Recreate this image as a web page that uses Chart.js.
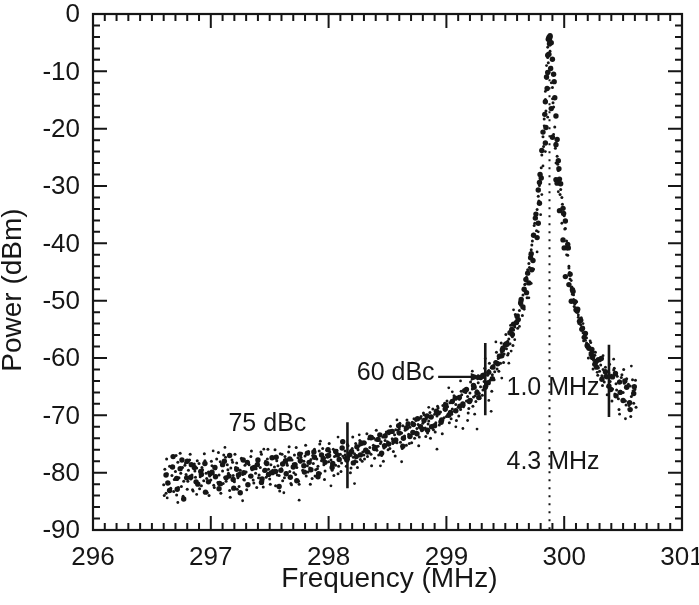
<!DOCTYPE html>
<html>
<head>
<meta charset="utf-8">
<script src="https://cdn.jsdelivr.net/npm/chart.js@4.4.1/dist/chart.umd.min.js"></script>
<style>
  html, body { margin: 0; padding: 0; background: #fff; }
  #wrap { width: 699px; height: 605px; }
</style>
</head>
<body>
<div id="wrap"><canvas id="spec" width="699" height="605"></canvas></div>
<script>
// ---- datos ----
const xTicks = [296, 297, 298, 299, 300, 301];
const yTicks = [-90, -80, -70, -60, -50, -40, -30, -20, -10, 0];

// barrido principal (puntos chicos)
const smallFreq = [
296.60,296.61,296.62,296.63,296.64,296.65,296.66,296.67,296.68,296.69,
296.70,296.71,296.72,296.73,296.74,296.75,296.76,296.77,296.78,296.79,
296.80,296.81,296.82,296.83,296.84,296.85,296.86,296.87,296.88,296.89,
296.90,296.91,296.92,296.93,296.94,296.95,296.96,296.97,296.98,296.99,
297.00,297.01,297.02,297.03,297.04,297.05,297.06,297.07,297.08,297.09,
297.10,297.11,297.12,297.13,297.14,297.15,297.16,297.17,297.18,297.19,
297.20,297.21,297.22,297.23,297.24,297.25,297.26,297.27,297.28,297.29,
297.30,297.31,297.32,297.33,297.34,297.35,297.36,297.37,297.38,297.39,
297.40,297.41,297.42,297.43,297.44,297.45,297.46,297.47,297.48,297.49,
297.50,297.51,297.52,297.53,297.54,297.55,297.56,297.57,297.58,297.59,
297.60,297.61,297.62,297.63,297.64,297.65,297.66,297.67,297.68,297.69,
297.70,297.71,297.72,297.73,297.74,297.75,297.76,297.77,297.78,297.79,
297.80,297.81,297.82,297.83,297.84,297.85,297.86,297.87,297.88,297.89,
297.90,297.91,297.92,297.93,297.94,297.95,297.96,297.97,297.98,297.99,
298.00,298.01,298.02,298.03,298.04,298.05,298.06,298.07,298.08,298.09,
298.10,298.11,298.12,298.13,298.14,298.15,298.16,298.17,298.18,298.19,
298.20,298.21,298.22,298.23,298.24,298.25,298.26,298.27,298.28,298.29,
298.30,298.31,298.32,298.33,298.34,298.35,298.36,298.37,298.38,298.39,
298.40,298.41,298.42,298.43,298.44,298.45,298.46,298.47,298.48,298.49,
298.50,298.51,298.52,298.53,298.54,298.55,298.56,298.57,298.58,298.59,
298.60,298.61,298.62,298.63,298.64,298.65,298.66,298.67,298.68,298.69,
298.70,298.71,298.72,298.73,298.74,298.75,298.76,298.77,298.78,298.79,
298.80,298.81,298.82,298.83,298.84,298.85,298.86,298.87,298.88,298.89,
298.90,298.91,298.92,298.93,298.94,298.95,298.96,298.97,298.98,298.99,
299.00,299.01,299.02,299.03,299.04,299.05,299.06,299.07,299.08,299.09,
299.10,299.11,299.12,299.13,299.14,299.15,299.16,299.17,299.18,299.19,
299.20,299.21,299.22,299.23,299.24,299.25,299.26,299.27,299.28,299.29,
299.30,299.31,299.32,299.33,299.34,299.35,299.36,299.37,299.38,299.39,
299.40,299.41,299.42,299.43,299.44,299.45,299.46,299.47,299.48,299.49,
299.50,299.51,299.52,299.53,299.54,299.55,299.56,299.57,299.58,299.59,
299.60,299.61,299.62,299.63,299.64,299.65,299.66,299.67,299.68,299.69,
299.70,299.71,299.72,299.73,299.74,299.75,299.76,299.77,299.78,299.79,
299.80,299.81,299.82,299.83,299.84,299.85,299.86,299.87,299.88,299.89,
299.90,299.91,299.92,299.93,299.94,299.95,299.96,299.97,299.98,299.99,
300.00,300.01,300.02,300.03,300.04,300.05,300.06,300.07,300.08,300.09,
300.10,300.11,300.12,300.13,300.14,300.15,300.16,300.17,300.18,300.19,
300.20,300.21,300.22,300.23,300.24,300.25,300.26,300.27,300.28,300.29,
300.30,300.31,300.32,300.33,300.34,300.35,300.36,300.37,300.38,300.39,
300.40,300.41,300.42,300.43,300.44,300.45,300.46,300.47,300.48,300.49,
300.50,300.51,300.52,300.53,300.54,300.55,300.56,300.57,300.58,300.59,
300.60,300.61
];
const smallPower = [
-82.1,-79.4,-83.6,-80.2,-81.8,-78.9,-82.7,-80.5,-77.3,-81.2,
-79.8,-83.9,-78.2,-80.9,-76.6,-82.4,-79.1,-81.5,-78.7,-80.3,
-82.9,-79.6,-77.8,-81.1,-80.4,-83.2,-78.5,-80.8,-79.2,-81.9,
-78.4,-80.7,-82.3,-79.5,-81.4,-77.9,-80.1,-83.5,-79.9,-80.6,
-81.3,-78.8,-80.2,-82.6,-79.3,-77.6,-81.7,-80.4,-78.1,-82.1,
-79.7,-76.9,-80.8,-81.5,-78.6,-80.1,-83.1,-79.2,-77.8,-80.5,
-81.6,-79.1,-78.3,-80.9,-82.4,-79.6,-77.5,-80.3,-81.2,-78.7,
-79.9,-82.0,-78.4,-80.6,-77.2,-79.5,-81.3,-78.9,-80.1,-82.6,
-78.2,-80.4,-79.1,-76.8,-81.5,-79.7,-78.3,-80.8,-77.6,-79.4,
-81.1,-78.6,-77.4,-80.2,-79.0,-82.3,-77.9,-78.8,-80.5,-76.7,
-79.3,-81.4,-78.1,-77.2,-80.0,-78.7,-76.4,-79.8,-81.9,-77.8,
-78.5,-76.9,-80.3,-79.1,-77.4,-82.0,-78.2,-76.6,-79.6,-78.0,
-77.1,-80.6,-78.8,-76.3,-79.2,-77.7,-81.0,-78.4,-75.9,-79.5,
-77.6,-78.9,-76.2,-80.1,-77.9,-75.8,-78.6,-79.7,-76.9,-77.3,
-78.1,-76.4,-77.8,-79.6,-75.9,-77.2,-78.7,-76.1,-80.2,-77.5,
-76.8,-78.3,-75.6,-77.4,-76.2,-78.9,-75.1,-77.6,-76.5,-79.2,
-75.8,-77.3,-76.7,-74.9,-78.1,-76.0,-75.3,-77.7,-74.6,-76.4,
-76.9,-74.8,-75.9,-77.2,-74.1,-75.6,-76.8,-73.7,-75.2,-77.5,
-74.3,-76.1,-75.4,-73.5,-74.9,-77.0,-73.8,-75.7,-74.4,-72.9,
-74.6,-73.2,-75.8,-72.7,-74.1,-76.3,-73.4,-72.5,-74.8,-73.0,
-72.4,-74.7,-73.1,-71.8,-73.9,-72.6,-75.2,-71.5,-73.3,-72.1,
-73.6,-71.2,-72.8,-74.0,-70.9,-72.3,-71.6,-73.8,-70.5,-72.7,
-71.4,-69.9,-72.2,-70.6,-73.1,-71.0,-69.5,-71.9,-70.2,-72.5,
-69.8,-71.3,-70.1,-68.7,-71.7,-69.4,-70.8,-68.3,-70.4,-69.1,
-70.2,-68.5,-69.7,-67.8,-70.6,-68.9,-67.4,-69.3,-68.1,-66.9,
-68.6,-67.2,-69.0,-66.4,-67.9,-68.3,-65.8,-67.5,-66.7,-68.8,
-66.1,-67.3,-65.4,-66.8,-64.9,-67.6,-65.7,-64.3,-66.2,-65.0,
-63.4,-65.6,-64.1,-62.8,-64.7,-63.0,-62.2,-63.9,-61.7,-62.9,
-61.3,-62.4,-60.7,-61.9,-60.1,-59.6,-60.9,-59.0,-58.6,-59.3,
-57.9,-58.4,-57.1,-56.7,-57.5,-55.8,-56.3,-55.1,-54.6,-53.9,
-53.2,-52.5,-51.7,-50.8,-50.1,-49.0,-48.2,-47.1,-45.9,-44.6,
-43.5,-42.0,-41.1,-39.6,-38.4,-36.5,-35.0,-34.1,-31.8,-29.9,
-28.2,-24.6,-21.4,-18.3,-14.9,-11.2,-7.6,-4.6,-5.4,-9.3,
-12.8,-16.2,-19.7,-22.5,-24.8,-27.3,-29.1,-30.6,-32.0,-33.8,
-35.2,-37.4,-39.6,-42.1,-44.3,-46.2,-47.7,-48.9,-49.8,-50.6,
-51.3,-52.0,-52.9,-53.5,-54.2,-55.0,-55.6,-56.1,-56.9,-57.4,
-57.8,-58.3,-59.1,-58.7,-59.8,-60.4,-59.5,-61.0,-60.6,-61.7,
-62.3,-61.2,-63.1,-62.0,-64.2,-61.6,-63.5,-65.0,-62.6,-64.1,
-63.0,-65.4,-62.1,-66.3,-64.5,-63.2,-67.1,-64.0,-65.8,-62.9,
-66.0,-64.4,-67.5,-63.6,-65.2,-68.3,-64.9,-66.7,-63.8,-67.9,
-65.5,-68.6
];

// tercer barrido (puntos chicos, mas disperso)
const smallFreq2 = [
296.605,296.625,296.645,296.665,296.685, 296.705,296.725,296.745,296.765,296.785,
296.805,296.825,296.845,296.865,296.885, 296.905,296.925,296.945,296.965,296.985,
297.005,297.025,297.045,297.065,297.085, 297.105,297.125,297.145,297.165,297.185,
297.205,297.225,297.245,297.265,297.285, 297.305,297.325,297.345,297.365,297.385,
297.405,297.425,297.445,297.465,297.485, 297.505,297.525,297.545,297.565,297.585,
297.605,297.625,297.645,297.665,297.685, 297.705,297.725,297.745,297.765,297.785,
297.805,297.825,297.845,297.865,297.885, 297.905,297.925,297.945,297.965,297.985,
298.005,298.025,298.045,298.065,298.085, 298.105,298.125,298.145,298.165,298.185,
298.205,298.225,298.245,298.265,298.285, 298.305,298.325,298.345,298.365,298.385,
298.405,298.425,298.445,298.465,298.485, 298.505,298.525,298.545,298.565,298.585,
298.605,298.625,298.645,298.665,298.685, 298.705,298.725,298.745,298.765,298.785,
298.805,298.825,298.845,298.865,298.885, 298.905,298.925,298.945,298.965,298.985,
299.005,299.025,299.045,299.065,299.085, 299.105,299.125,299.145,299.165,299.185,
299.205,299.225,299.245,299.265,299.285, 299.305,299.325,299.345,299.365,299.385,
299.405,299.425,299.445,299.465,299.485, 299.505,299.525,299.545,299.565,299.585,
299.605,299.625,299.645,299.665,299.685, 299.705,299.725,299.745,299.765,299.785,
299.805,299.825,299.845,299.865,299.885, 299.905,299.925,299.945,299.965,299.985,
300.005,300.025,300.045,300.065,300.085, 300.105,300.125,300.145,300.165,300.185,
300.205,300.225,300.245,300.265,300.285, 300.305,300.325,300.345,300.365,300.385,
300.405,300.425,300.445,300.465,300.485, 300.505,300.525,300.545,300.565,300.585,
300.605
];
const smallPower2 = [
-84.0,-77.6,-81.9,-79.0,-83.3, -77.0,-82.6,-80.1,-84.1,-78.3,
-81.5,-76.8,-83.0,-79.7,-77.9, -82.8,-79.1,-76.7,-81.0,-84.0,
-78.0,-82.2,-80.6,-76.5,-83.6, -81.9,-77.3,-79.5,-84.3,-78.2,
-76.8,-82.9,-80.0,-77.7,-81.3, -83.0,-78.6,-76.2,-81.8,-79.3,
-80.9,-76.4,-82.5,-78.0,-75.9, -82.0,-79.6,-76.0,-80.4,-83.2,
-76.8,-80.9,-78.4,-75.5,-82.1, -80.0,-75.6,-81.5,-77.3,-79.8,
-75.2,-79.9,-82.0,-77.0,-80.6, -79.3,-75.0,-77.8,-81.2,-76.1,
-74.9,-78.7,-80.5,-76.6,-78.9, -79.8,-74.5,-77.5,-75.3,-80.0,
-73.8,-77.9,-79.1,-74.4,-78.0, -77.6,-73.2,-76.5,-78.8,-74.0,
-72.6,-76.9,-74.6,-78.0,-73.3, -76.0,-71.9,-74.9,-77.1,-72.6,
-71.4,-75.8,-73.6,-70.8,-74.9, -74.8,-70.6,-72.9,-75.3,-70.2,
-69.6,-73.7,-71.5,-74.0,-68.9, -72.9,-68.4,-71.0,-73.2,-67.9,
-67.5,-71.3,-69.8,-66.6,-70.9, -70.1,-65.8,-68.5,-66.0,-69.6,
-64.2,-68.4,-66.6,-63.6,-67.0, -66.5,-61.8,-64.9,-60.9,-65.8,
-63.8,-59.0,-62.3,-57.4,-60.8, -55.9,-59.2,-54.3,-57.8,-52.4,
-54.8,-50.0,-52.6,-47.2,-49.5, -44.2,-40.3,-36.9,-37.8,-32.6,
-26.8,-23.1,-16.9,-8.5,-4.9, -15.5,-23.4,-26.2,-31.5,-33.2,
-37.5,-41.0,-45.1,-47.6,-51.0, -50.2,-54.0,-53.0,-57.0,-55.9,
-60.0,-57.3,-61.9,-59.0,-63.0, -60.5,-64.8,-62.5,-66.4,-61.1,
-67.5,-61.8,-65.6,-69.0,-63.4, -62.0,-68.2,-64.6,-70.2,-65.7,
-63.9
];

// segundo barrido (puntos grandes)
const bigFreq = [
296.62,296.65,296.68,296.71,296.74,296.77,296.80,296.83,296.86,296.89,
296.92,296.95,296.98,297.01,297.04,297.07,297.10,297.13,297.16,297.19,
297.22,297.25,297.28,297.31,297.34,297.37,297.40,297.43,297.46,297.49,
297.52,297.55,297.58,297.61,297.64,297.67,297.70,297.73,297.76,297.79,
297.82,297.85,297.88,297.91,297.94,297.97,298.00,298.03,298.06,298.09,
298.12,298.15,298.18,298.21,298.24,298.27,298.30,298.33,298.36,298.39,
298.42,298.45,298.48,298.51,298.54,298.57,298.60,298.63,298.66,298.69,
298.72,298.75,298.78,298.81,298.84,298.87,298.90,298.93,298.96,298.99,
299.02,299.05,299.08,299.11,299.14,299.17,299.20,299.23,299.26,299.29,
299.31,299.33,299.36,299.39,299.42,299.45,299.48,299.51,299.54,299.57,
299.60,299.63,299.66,299.69,299.72,299.74,299.76,299.78,299.79,299.81,
299.82,299.84,299.85,299.86,299.87,299.88,299.89,299.90,299.91,299.92,
299.93,299.94,299.95,299.96,299.97,299.99,300.01,300.03,300.05,300.07,
300.09,300.11,300.13,300.15,300.17,300.20,300.23,300.26,300.29,300.32,
300.35,300.38,300.41,300.44,300.47,300.50,300.53,300.56,300.59
];
const bigPower = [
-80.4,-83.1,-77.2,-81.0,-79.3,-84.6,-78.0,-80.8,-79.1,-82.0,
-80.3,-78.4,-81.6,-79.9,-80.7,-82.8,-78.6,-80.9,-77.0,-81.2,
-79.4,-83.5,-80.0,-78.2,-80.6,-79.1,-77.8,-81.7,-79.6,-80.3,
-77.4,-79.8,-82.4,-78.5,-80.2,-77.6,-79.0,-81.4,-77.9,-78.8,
-76.6,-79.5,-77.3,-80.7,-76.9,-78.2,-77.0,-79.1,-76.3,-77.7,
-74.6,-77.5,-76.8,-78.3,-75.5,-76.9,-74.8,-76.4,-73.9,-75.8,
-74.2,-76.6,-73.6,-75.0,-72.8,-74.3,-73.1,-75.4,-72.2,-73.7,
-71.6,-73.2,-72.0,-70.9,-72.6,-70.3,-71.8,-69.6,-70.8,-68.9,
-70.0,-67.6,-69.2,-66.9,-68.0,-65.5,-67.4,-64.8,-66.0,-63.4,
-63.2,-65.1,-62.5,-63.6,-60.8,-59.7,-58.3,-57.5,-55.6,-54.1,
-52.7,-50.4,-48.0,-45.2,-41.8,-38.6,-34.9,-30.7,-29.4,-23.8,
-20.6,-15.3,-11.0,-7.2,-4.1,-3.8,-5.0,-7.9,-10.5,-14.6,
-17.8,-21.9,-25.6,-28.8,-29.6,-33.9,-36.1,-40.2,-45.4,-48.1,
-50.2,-51.8,-53.6,-55.0,-56.4,-58.0,-59.4,-61.1,-60.3,-63.7,
-62.4,-64.9,-63.3,-66.6,-64.2,-67.4,-65.1,-69.0,-66.2
];

// cuarto barrido (puntos grandes)
const bigFreq2 = [
296.635,296.675,296.715,296.755,296.795, 296.835,296.875,296.915,296.955,296.995,
297.035,297.075,297.115,297.155,297.195, 297.235,297.275,297.315,297.355,297.395,
297.435,297.475,297.515,297.555,297.595, 297.635,297.675,297.715,297.755,297.795,
297.835,297.875,297.915,297.955,297.995, 298.035,298.075,298.115,298.155,298.195,
298.235,298.275,298.315,298.355,298.395, 298.435,298.475,298.515,298.555,298.595,
298.635,298.675,298.715,298.755,298.795, 298.835,298.875,298.915,298.955,298.995,
299.035,299.075,299.115,299.155,299.195, 299.235,299.275,299.315,299.355,299.395,
299.435,299.475,299.515,299.555,299.595, 299.635,299.675,299.715,299.755,299.795,
299.835,299.875,299.915,299.955,299.995, 300.035,300.075,300.115,300.155,300.195,
300.235,300.275,300.315,300.355,300.395, 300.435,300.475,300.515,300.555,300.595
];
const bigPower2 = [
-81.8,-79.0,-82.9,-77.8,-80.9, -78.6,-81.6,-79.8,-83.4,-80.2,
-79.1,-81.9,-78.0,-80.6,-82.7, -80.4,-77.8,-82.1,-79.2,-78.6,
-81.1,-78.4,-80.0,-77.3,-79.6, -77.9,-80.8,-78.6,-76.8,-79.9,
-78.2,-76.4,-80.2,-77.5,-76.0, -78.4,-76.9,-75.7,-77.8,-76.3,
-77.2,-74.9,-76.1,-73.8,-75.6, -73.4,-75.3,-72.9,-74.5,-71.8,
-74.0,-71.5,-73.0,-70.6,-72.4, -70.1,-72.0,-69.3,-71.2,-68.2,
-69.5,-67.0,-68.4,-65.7,-67.6, -65.1,-66.9,-63.0,-64.3,-61.6,
-61.0,-58.6,-57.6,-55.0,-53.8, -49.8,-46.3,-42.5,-35.6,-28.0,
-17.5,-4.5,-11.8,-27.0,-34.8, -40.8,-48.4,-51.5,-54.8,-57.8,
-58.5,-61.6,-60.1,-63.2,-65.5, -62.7,-66.0,-64.0,-67.8,-65.0
];

// columna del pico (puntos grandes)
const peakFreq = [
299.865,299.875,299.880,299.870,299.860,299.885,299.855,299.890,299.845,299.900,
299.840,299.930,299.805,299.930,299.940,299.790,299.960,299.780,299.990,299.770,
300.000,299.735,299.725,300.010,299.700,300.040,299.680,300.060,299.650,300.100,
300.140,299.610,300.180,299.560,300.210,299.500,300.240,299.470,300.270
];
const peakPower = [
-4.4,-5.2,-4.0,-7.0,-10.2,-9.5,-13.0,-16.5,-19.8,-21.5,
-22.5,-22.8,-28.6,-28.9,-29.5,-33.0,-34.3,-36.5,-39.4,-39.0,
-40.8,-43.0,-44.6,-45.8,-46.9,-47.2,-48.6,-50.1,-51.1,-51.6,
-53.4,-53.3,-55.7,-55.9,-58.3,-57.7,-59.9,-59.6,-60.6
];

// puntos sueltos (columna del pico y dispersos)
const extraFreq = [
299.86,299.88,299.85,299.89,299.84,299.90,299.86,299.83,299.91,299.84,
299.82,299.93,299.81,299.95,299.80,299.98,299.78,300.02,299.77,300.04,
299.74,300.06,299.72,300.08,299.70,300.12,299.66,300.16,299.62,300.19,
299.58,300.22,299.55,300.25,299.52,300.28,
296.63,296.72,296.88,297.02,297.12,297.27,297.45,297.62,297.75,297.93,
298.02,298.08,298.22,298.26,298.44,298.58,298.62,298.85,298.92,299.05,
299.14,299.22,299.26,299.27,299.29,299.30,299.33,299.38,300.33,300.42,
300.47,300.52,300.57,300.55,298.12,298.14,298.17,298.19,
299.02,299.08,299.12,299.18,299.24,299.36,299.42,299.47,299.53,299.57
];
const extraPower = [
-5.8,-6.5,-9.0,-12.0,-13.5,-14.8,-18.0,-19.5,-21.0,-24.0,
-26.5,-26.0,-31.5,-31.0,-35.0,-36.5,-38.0,-42.0,-41.5,-44.0,
-44.5,-46.5,-47.0,-49.0,-49.5,-52.5,-51.5,-54.0,-54.5,-56.5,
-56.8,-57.0,-58.8,-59.0,-59.5,-62.5,
-84.4,-85.2,-83.8,-76.2,-75.6,-84.9,-75.9,-83.5,-84.8,-74.5,
-82.3,-73.8,-81.9,-73.4,-78.8,-70.8,-78.1,-68.6,-75.9,-65.9,
-72.3,-62.3,-72.4,-63.1,-63.5,-62.9,-60.1,-69.3,-59.6,-60.2,
-69.8,-70.6,-61.4,-68.9,-77.1,-76.9,-77.3,-77.0,
-65.2,-72.0,-64.0,-70.9,-69.8,-67.4,-57.2,-63.5,-60.9,-51.6
];

// marcas verticales: [frecuencia, potencia arriba, potencia abajo]
const markerLines = [
    [298.16, -71.2, -82.7],
    [299.33, -57.4, -70.0],
    [300.38, -57.7, -70.3]
];
const centerFreq = 299.87;   // linea punteada
const arrowSpan = [298.93, 299.30, -63.3];
const labels = [
    { text: '60 dBc',  x: 298.90, y: -62.6, align: 'right' },
    { text: '75 dBc',  x: 297.15, y: -71.6, align: 'left' },
    { text: '1.0 MHz', x: 299.51, y: -65.3, align: 'left' },
    { text: '4.3 MHz', x: 299.51, y: -78.2, align: 'left' }
];

const FONT = '"Liberation Sans", Arial, Helvetica, sans-serif';
const INK = '#161616';

function pares(fs, ps) {
    return fs.map((f, i) => ({ x: f, y: ps[i] }));
}

function serie(fs, ps, r) {
    return {
        data: pares(fs, ps),
        backgroundColor: INK, borderColor: INK,
        pointRadius: r, borderWidth: 0
    };
}

// marco, ticks hacia adentro, rotulos y anotaciones
const adornos = {
    id: 'adornos',
    beforeDatasetsDraw(chart) {
        const { ctx, scales: { x, y } } = chart;
        ctx.save();
        ctx.strokeStyle = INK;
        ctx.lineWidth = 2;
        ctx.setLineDash([2, 6]);
        const px = Math.round(x.getPixelForValue(centerFreq)) + 0.5;
        ctx.beginPath();
        ctx.moveTo(px, y.getPixelForValue(-10));
        ctx.lineTo(px, y.getPixelForValue(-90));
        ctx.stroke();
        ctx.restore();
    },
    afterDatasetsDraw(chart) {
        const { ctx, chartArea: a, scales: { x, y } } = chart;
        ctx.save();
        ctx.strokeStyle = INK;
        ctx.fillStyle = INK;

        // marco
        ctx.lineWidth = 2.2;
        ctx.strokeRect(a.left, a.top, a.right - a.left, a.bottom - a.top);

        // ticks eje x (cada 0.1)
        ctx.lineWidth = 2;
        ctx.beginPath();
        for (let i = 0; i <= 50; i++) {
            const px = x.getPixelForValue(296 + i / 10);
            const len = i % 10 === 0 ? 14 : 7;
            ctx.moveTo(px, a.bottom); ctx.lineTo(px, a.bottom - len);
            ctx.moveTo(px, a.top); ctx.lineTo(px, a.top + len);
        }
        // ticks eje y (cada 2)
        for (let v = -90; v <= 0; v += 2) {
            const py = y.getPixelForValue(v);
            const len = v % 10 === 0 ? 14 : 7;
            ctx.moveTo(a.left, py); ctx.lineTo(a.left + len, py);
            ctx.moveTo(a.right, py); ctx.lineTo(a.right - len, py);
        }
        ctx.stroke();

        // rotulos de los ejes
        ctx.font = '26px ' + FONT;
        ctx.textBaseline = 'middle';
        ctx.textAlign = 'center';
        xTicks.forEach(v => ctx.fillText(String(v), x.getPixelForValue(v), a.bottom + 28));
        ctx.textAlign = 'right';
        yTicks.forEach(v => ctx.fillText(String(v), a.left - 13, y.getPixelForValue(v) + 1));

        ctx.font = '28px ' + FONT;
        ctx.textAlign = 'center';
        ctx.fillText('Frequency (MHz)', (a.left + a.right) / 2 + 2, 579);
        ctx.save();
        ctx.translate(13, 290);
        ctx.rotate(-Math.PI / 2);
        ctx.fillText('Power (dBm)', 0, 0);
        ctx.restore();

        // lineas de marca
        ctx.lineWidth = 2.6;
        ctx.beginPath();
        markerLines.forEach(([f, top, bot]) => {
            const px = x.getPixelForValue(f);
            ctx.moveTo(px, y.getPixelForValue(top));
            ctx.lineTo(px, y.getPixelForValue(bot));
        });
        ctx.stroke();

        // flecha 60 dBc
        const ax0 = x.getPixelForValue(arrowSpan[0]);
        const ax1 = x.getPixelForValue(arrowSpan[1]);
        const ay = y.getPixelForValue(arrowSpan[2]);
        ctx.lineWidth = 2.2;
        ctx.beginPath();
        ctx.moveTo(ax0, ay); ctx.lineTo(ax1 - 8, ay);
        ctx.stroke();
        ctx.beginPath();
        ctx.moveTo(ax1, ay);
        ctx.lineTo(ax1 - 11, ay - 4);
        ctx.lineTo(ax1 - 11, ay + 4);
        ctx.closePath();
        ctx.fill();

        // textos
        ctx.font = '25px ' + FONT;
        ctx.textBaseline = 'middle';
        labels.forEach(l => {
            ctx.textAlign = l.align;
            ctx.fillText(l.text, x.getPixelForValue(l.x), y.getPixelForValue(l.y));
        });
        ctx.restore();
    }
};

new Chart(document.getElementById('spec'), {
    type: 'scatter',
    data: {
        datasets: [
            serie(smallFreq, smallPower, 1.5),
            serie(smallFreq2, smallPower2, 1.5),
            serie(extraFreq, extraPower, 1.4),
            serie(bigFreq, bigPower, 2.7),
            serie(bigFreq2, bigPower2, 2.7),
            serie(peakFreq, peakPower, 2.7)
        ]
    },
    options: {
        responsive: false,
        animation: false,
        layout: { padding: { top: 14, right: 17, left: 0, bottom: 0 } },
        plugins: { legend: { display: false }, tooltip: { enabled: false } },
        scales: {
            x: {
                type: 'linear',
                min: 296, max: 301,
                afterFit: s => { s.height = 75; },
                grid: { display: false, drawTicks: false },
                border: { display: false },
                ticks: { display: false }
            },
            y: {
                type: 'linear',
                min: -90, max: 0,
                afterFit: s => { s.width = 93; },
                grid: { display: false, drawTicks: false },
                border: { display: false },
                ticks: { display: false }
            }
        }
    },
    plugins: [adornos]
});
</script>
</body>
</html>
